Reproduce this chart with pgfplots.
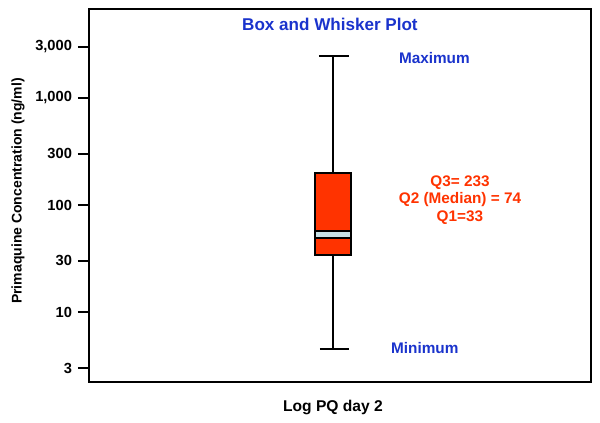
\documentclass[border=0pt]{standalone}
\usepackage{pgfplots}
\pgfplotsset{compat=1.18}
\usepackage{fontspec}
\setmainfont{Liberation Sans}
\definecolor{tblue}{RGB}{26,51,204}
\definecolor{tred}{RGB}{255,51,0}
\definecolor{mband}{RGB}{200,225,230}
\begin{document}
\begin{tikzpicture}[x=1pt,y=1pt]
\path[use as bounding box] (-66.75,-30.75) rectangle (383.25,286.5);
\begin{axis}[
 at={(0,0)}, anchor=south west,
 scale only axis, width=376.5pt, height=279.75pt,
 ymode=log, ymin=2.22, ymax=6780, xmin=0, xmax=10,
 axis line style={line width=1.7pt},
 ytick={3,10,30,100,300,1000,3000},
 yticklabels={3,10,30,100,300,{1,000},{3,000}},
 minor y tick num=0,
 xtick=\empty,
 tick pos=left,
 major tick length=8.25pt,
 y tick style={black, line width=1.5pt},
 minor tick style={draw=none},
 tick align=outside,
 yticklabel style={font=\bfseries\fontsize{11}{12}\selectfont, xshift=-1pt},
 every axis y label/.style={at={(axis description cs:-0.1414,0.512)}, rotate=90, anchor=center, font=\bfseries\fontsize{10.5}{12}\selectfont},
 every axis x label/.style={at={(axis description cs:0.486,-0.0697)}, anchor=center, font=\bfseries\fontsize{11.7}{13}\selectfont},
 ylabel={Primaquine Concentration (ng/ml)},
 xlabel={Log PQ day 2},
 clip=false,
]
% whiskers
\addplot[black, line width=1.5pt] coordinates {(4.86,4.5) (4.86,34)};
\addplot[black, line width=1.5pt] coordinates {(4.86,200) (4.86,2440)};
\addplot[black, line width=1.5pt] coordinates {(4.60,4.5) (5.18,4.5)};
\addplot[black, line width=1.5pt] coordinates {(4.58,2440) (5.18,2440)};
% box
\addplot[draw=black, fill=tred, line width=1.5pt] coordinates {(4.50,34) (5.22,34) (5.22,200) (4.50,200)} --cycle;
% median band
\addplot[draw=black, fill=mband, line width=1.5pt] coordinates {(4.50,49) (5.22,49) (5.22,57) (4.50,57)} --cycle;
% annotations
\node[tblue, font=\bfseries\fontsize{12.8}{14}\selectfont] at (axis description cs:0.480,0.960) {Box and Whisker Plot};
\node[tblue, font=\bfseries\fontsize{11.5}{13}\selectfont] at (axis description cs:0.688,0.869) {Maximum};
\node[tblue, font=\bfseries\fontsize{11.5}{13}\selectfont] at (axis description cs:0.669,0.091) {Minimum};
\node[tred, font=\bfseries\fontsize{11.5}{13.2}\selectfont, align=center] at (axis description cs:0.739,0.488) {Q3= 233\\Q2 (Median) = 74\\Q1=33};
\end{axis}
\end{tikzpicture}
\end{document}
